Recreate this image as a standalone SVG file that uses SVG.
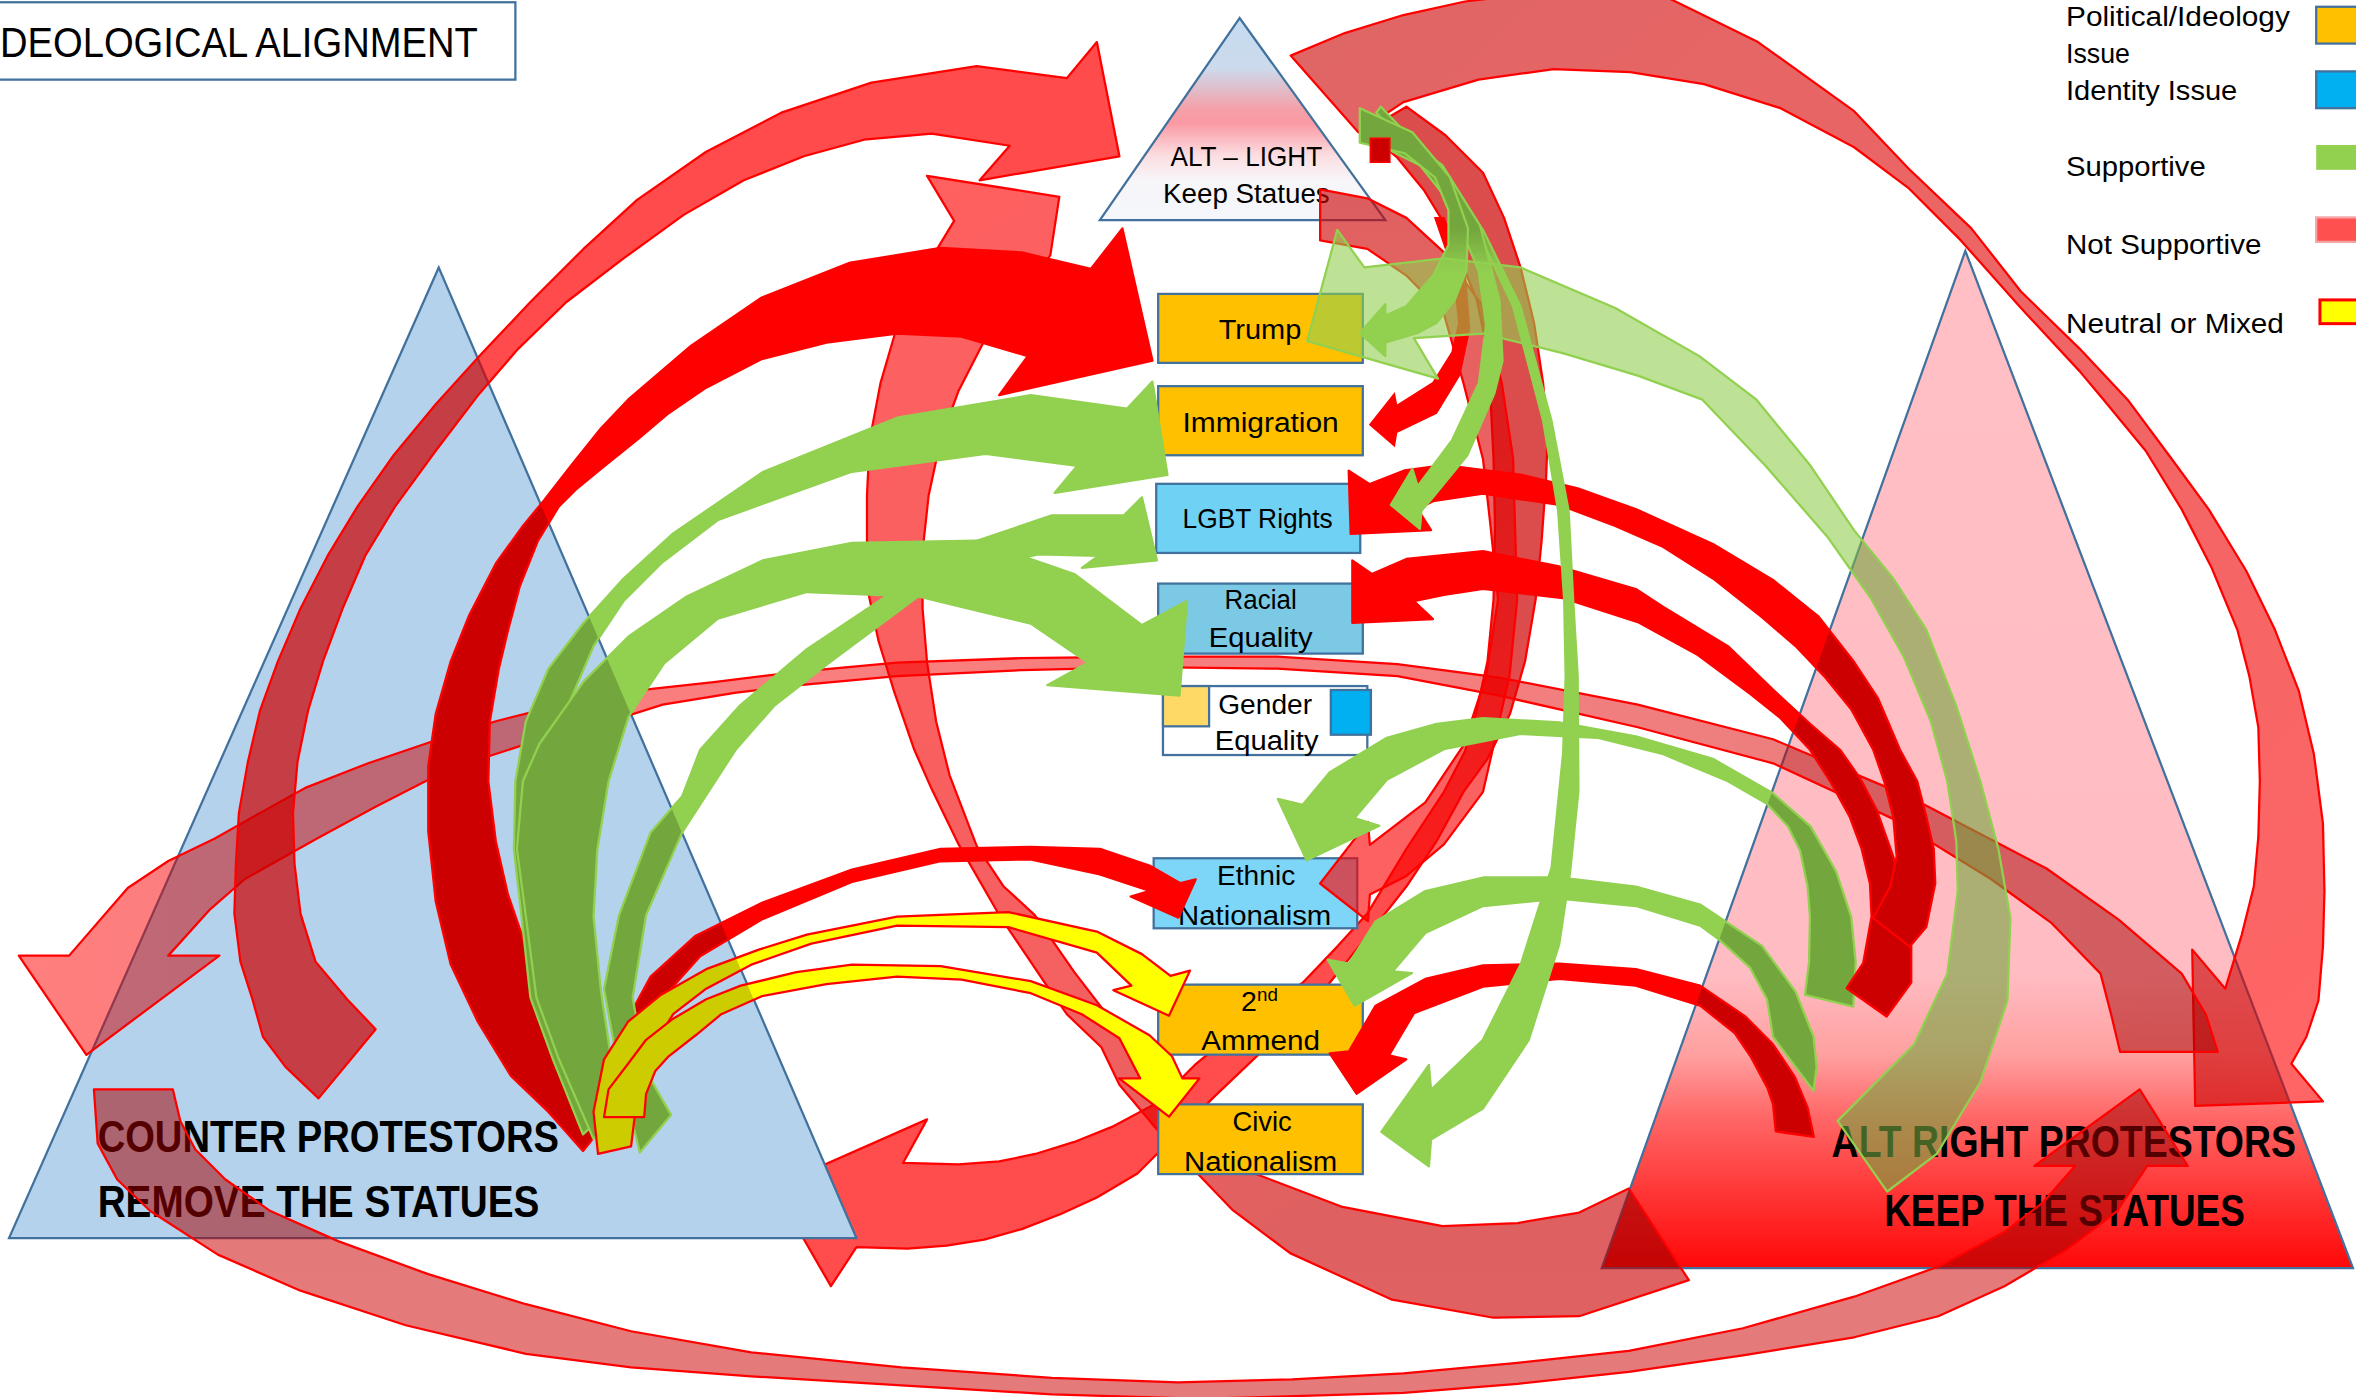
<svg xmlns="http://www.w3.org/2000/svg" width="2356" height="1397" viewBox="0 0 2356 1397">
<style>
text{font-family:"Liberation Sans",Arial,sans-serif;fill:#000}
.box{stroke:#41719C;stroke-width:1.5}
.bt{font-size:19px;text-anchor:middle}
.lg{font-size:18.5px}
.tri{stroke:#41719C;stroke-width:1.5}
.big{font-size:29px;font-weight:bold}
.sr{fill:none;stroke:#FF0000;stroke-width:1.5;stroke-linejoin:round}
.sg{fill:none;stroke:#92D050;stroke-width:1.5;stroke-linejoin:round}
</style>
<defs>
<linearGradient id="gAL" x1="0" y1="0" x2="0" y2="1">
<stop offset="0" stop-color="#C5DBF0"/><stop offset="0.25" stop-color="#CCDAEC"/><stop offset="0.45" stop-color="#F5A0A8"/><stop offset="0.52" stop-color="#FA99A3"/><stop offset="0.68" stop-color="#FCDDE1"/><stop offset="0.8" stop-color="#F7F5F8"/><stop offset="1" stop-color="#F4F7FC"/>
</linearGradient>
<linearGradient id="gAR" x1="0" y1="0" x2="0" y2="1">
<stop offset="0" stop-color="#FFBFC5"/><stop offset="0.71" stop-color="#FFBDC3"/><stop offset="0.79" stop-color="#FFA0A0"/><stop offset="0.85" stop-color="#FF6868"/><stop offset="0.93" stop-color="#FF3333"/><stop offset="1" stop-color="#FF0808"/>
</linearGradient>
<linearGradient id="gD" gradientUnits="userSpaceOnUse" x1="900" y1="0" x2="1520" y2="700"><stop offset="0" stop-color="#CC0000"/><stop offset="1" stop-color="#FF0000"/></linearGradient>
<linearGradient id="gDd" gradientUnits="userSpaceOnUse" x1="900" y1="0" x2="1520" y2="700"><stop offset="0" stop-color="#A30000"/><stop offset="1" stop-color="#CC0000"/></linearGradient>
<linearGradient id="gF" gradientUnits="userSpaceOnUse" x1="0" y1="0" x2="1476" y2="0"><stop offset="0" stop-color="#FF0000"/><stop offset="0.6" stop-color="#F00000"/><stop offset="1" stop-color="#CC0000"/></linearGradient>
<linearGradient id="gFd" gradientUnits="userSpaceOnUse" x1="0" y1="0" x2="1476" y2="0"><stop offset="0" stop-color="#CC0000"/><stop offset="0.6" stop-color="#C00000"/><stop offset="1" stop-color="#A30000"/></linearGradient>
<linearGradient id="gI1" gradientUnits="userSpaceOnUse" x1="0" y1="70" x2="0" y2="830"><stop offset="0" stop-color="#CC0000"/><stop offset="0.45" stop-color="#CC0000"/><stop offset="0.7" stop-color="#FF0000"/><stop offset="1" stop-color="#FF0000"/></linearGradient>
<linearGradient id="gI2" gradientUnits="userSpaceOnUse" x1="0" y1="126" x2="0" y2="600"><stop offset="0" stop-color="#CC0000"/><stop offset="1" stop-color="#FF0000"/></linearGradient>
<linearGradient id="gJ" gradientUnits="userSpaceOnUse" x1="617" y1="117" x2="1124" y2="852"><stop offset="0" stop-color="#FF0000"/><stop offset="0.55" stop-color="#F00000"/><stop offset="0.8" stop-color="#CC0000"/><stop offset="1" stop-color="#CC0000"/></linearGradient>
<linearGradient id="gJd" gradientUnits="userSpaceOnUse" x1="617" y1="117" x2="1124" y2="852"><stop offset="0" stop-color="#CC0000"/><stop offset="0.55" stop-color="#C00000"/><stop offset="0.8" stop-color="#A30000"/><stop offset="1" stop-color="#A30000"/></linearGradient>
<linearGradient id="gL" gradientUnits="userSpaceOnUse" x1="0" y1="70" x2="0" y2="220"><stop offset="0" stop-color="#74A63E"/><stop offset="0.55" stop-color="#74A63E"/><stop offset="0.75" stop-color="#92D050"/><stop offset="1" stop-color="#92D050"/></linearGradient>
<clipPath id="tri"><polygon points="292,178 6,824 570,824"/><polygon points="1308,167 1066,844 1566,844"/></clipPath>

<path id="pA" d="M212,731 L190,710 L175,690 L168,665 L160,640 L156,608 L157,575 L159,541 L165,507 L173,473 L185,440 L200,405 L218,370 L238,337 L262,303 L290,269 L320,236 L353,201 L388,166 L424,133 L470,101 L520,75 L580,55 L650,44 L710,52 L730,28 L745,104 L652,120 L672,97 L620,89 L575,93 L535,104 L495,120 L455,143 L415,172 L377,201 L345,232 L319,262 L290,300 L263,337 L243,370 L228,405 L215,440 L205,473 L198,507 L195,541 L196,575 L200,608 L210,640 L231,665 L250,685 Z"/>
<path id="pB" d="M388,766 L365,740 L340,716 L318,680 L300,642 L290,600 L285,553 L285,510 L290,475 L300,440 L312,410 L330,375 L348,350 L362,333 L380,310 L400,285 L418,266 L460,230 L507,198 L565,175 L626,165 L680,168 L726,179 L747,152 L767,240 L665,263 L684,237 L640,224 L597,222 L550,228 L507,239 L470,258 L445,275 L425,292 L400,312 L383,326 L372,337 L358,360 L346,390 L338,420 L332,445 L326,480 L325,520 L330,560 L338,595 L350,630 L365,670 L385,710 L405,745 Z"/>
<path id="pC" d="M1256,793 L1289,768 L1318,720 L1336,666 L1338,611 L1330,565 L1318,520 L1302,470 L1282,419 L1260,385 L1234,353 L1205,310 L1169,266 L1131,237 L1075,205 L1012,178 L961,172 L908,178 L890,153 L870,227 L957,252 L941,225 L987,222 L1040,235 L1090,250 L1133,266 L1175,310 L1216,357 L1245,398 L1267,437 L1285,480 L1296,520 L1302,560 L1303,593 L1296,648 L1274,695 L1223,746 Z"/>
<path id="pD" d="M859,37 L895,22 L934,10 L975,1 L1009,-3 L1060,-6 L1109,-2 L1170,28 L1234,74 L1270,112 L1312,152 L1345,194 L1384,232 L1416,266 L1445,305 L1470,339 L1495,380 L1514,419 L1530,460 L1540,502 L1546,548 L1547,593 L1546,630 L1543,666 L1535,690 L1525,708 L1546,733 L1461,736 L1459,632 L1481,658 L1492,622 L1500,590 L1503,557 L1504,520 L1503,484 L1497,450 L1489,419 L1472,378 L1452,339 L1428,300 L1400,266 L1384,247 L1345,205 L1305,160 L1270,125 L1234,98 L1185,72 L1134,56 L1085,48 L1034,46 L984,53 L934,68 L904,88 Z"/>
<path id="pF" d="M46,636 L85,591 L112,573 L143,558 L175,540 L204,524 L245,508 L289,493 L330,480 L374,469 L420,460 L475,454 L532,447 L597,441 L680,438 L765,437 L850,437 L930,442 L998,451 L1090,469 L1180,492 L1270,530 L1362,578 L1410,612 L1452,648 L1468,675 L1476,700 L1411,700 L1405,675 L1398,648 L1365,614 L1325,585 L1260,545 L1180,508 L1090,484 L998,463 L930,450 L850,445 L765,444 L680,446 L597,450 L532,456 L490,461 L441,469 L400,482 L357,493 L320,505 L289,517 L250,537 L211,558 L163,585 L140,605 L112,636 L146,636 L57.5,702 L12.5,636 Z"/>
<path id="pG" d="M62.5,725 L65,761 L78,785 L100,806 L145,835 L200,859 L270,882 L350,901 L420,910 L500,916 L600,922 L700,928 L800,931 L934,927 L1010,921 L1084,913 L1160,902 L1234,890 L1290,876 L1334,856 L1375,832 L1409,806 L1429,776 L1456,776 L1424,725 L1354,776 L1381,776 L1360,800 L1334,820 L1290,843 L1234,863 L1160,884 L1084,899 L1010,907 L934,914 L860,918 L784,920 L700,917 L600,910 L500,900 L420,886 L350,868 L285,848 L225,826 L180,806 L150,785 L130,765 L120,746 L115,725 Z"/>
<path id="pI1" d="M936,71 L962,90 L987,115 L1001,145 L1012,178 L1021,215 L1027,255 L1030,290 L1029,318 L1026,360 L1022,399 L1015,440 L1005,475 L990,505 L974,527 L956,560 L936,590 L910,623 L885,654 L848,692 L808,730 L780,758 L757,781 L730,797 L706,808 L680,818 L655,825 L630,829 L604,831 L570,830 L553,856 L515,790 L617,745 L601,774 L638,775 L665,773 L689,768 L715,760 L740,750 L770,734 L796,708 L830,680 L867,654 L890,630 L910,608 L936,565 L961,527 L975,500 L982,476 L990,440 L994,399 L995,350 L994,305 L992,265 L989,229 L983,200 L974,178 L962,150 L948,127 L930,105 L909,87 Z"/>
<path id="pI2" d="M878.6,126 L910,132 L936,145 L961,168 L987,204 L999.5,255 L1007,305 L1009.7,399 L1004.6,450 L987,527 L961,562 L936,583 L911.7,595.4 L910.4,613 L878.6,588 L910.4,547 L911.7,562.3 L948.6,534 L974,496 L989,450 L997,399 L992,350 L987,305.6 L974,255 L961,209 L936,183.4 L910,165.6 L878.6,160 Z"/>
<path id="pJ" d="M617,117 L705,131 L699,170 L680,195 L656,225 L638,260 L626,293 L618,330 L614,367 L614,405 L617,441 L623,480 L632,516 L650,563 L668,590 L688.7,609 L715,647 L745,686 L765,710 L790,740 L812,762 L835,781 L892.6,803 L960,816 L1010,814 L1051,807 L1084,791 L1124,852 L1051,876 L994,877 L926.5,865 L858.6,834 L820,805 L797,781 L772,754 L745,722 L733,697 L710,675 L694.6,653 L665,609 L638,562 L620,525 L608.5,499 L595,460 L584.7,426.6 L578,395 L577,367 L577,330 L578.8,293 L586,255 L596.6,218.6 L612,185 L635,147 Z"/>
<path id="pK" d="M955,145 L967,180 L971,215 L966.4,234.3 L953.7,254.7 L929.5,270 L928,262 L911.7,282.7 L928,296.7 L929.5,287.8 L956,275 L971.5,249.6 L978,219 L975,180 L961,145 Z"/>
<path id="pL1" d="M905,72 L940,88 L965,118 L977,152 L976,180 L968,200 L956,215 L943.5,221.6 L922,228 L922,237 L905,221.6 L922,202.5 L922,210 L935.9,203.8 L953.7,183.4 L964,163 L964,140 L955,118 L935,102 L905,95 Z"/>
<path id="pL2" d="M925,85 L960,110 L985,150 L998,200 L1000,240 L994.5,262 L976.6,303 L953.7,331 L946,340 L945,352 L925.7,336 L940,312 L943.5,323.5 L966.4,293 L984.3,254.7 L989,216 L984,180 L965,135 L945,110 L925,100 Z"/>
<path id="pL3" d="M919,71 L948.6,102 L987,153 L1012,204 L1032.6,280 L1044,340 L1047,399 L1050,450 L1050.5,526.6 L1045,580 L1037.7,628.5 L1017.4,692.2 L986.8,738 L952.4,758.4 L951,776.3 L919.3,753.3 L951,708.8 L952.4,725.3 L986.8,692.2 L1012.3,641.3 L1032.6,577.6 L1040.3,501.2 L1042,450 L1041,399 L1037,340 L1027,280 L1007,204 L983,153 L945,105 L916,75 Z"/>
<path id="pM1" d="M911.6,322.2 L935,313 L961,309.5 L1012,315.8 L1050,325 L1089,339 L1140,362 L1180,386 L1210,410 L1234,440.6 L1250,465 L1264.5,499 L1276,520 L1282,543.5 L1287,565 L1288,588 L1282,617 L1271,630 L1246.7,611 L1258,590 L1262.3,570 L1260,543.5 L1254,520 L1246.7,499 L1232,472 L1214,450 L1195,430 L1173,411 L1140,385 L1107,364 L1075,350 L1037.7,336 L987,328.6 L953.7,333.6 L943.5,338.8 L952.4,352.8 L898.9,355.3 L897.6,313.3 Z"/>
<path id="pM2" d="M913,382 L936,372 L987,366.8 L1037.7,377 L1088.7,392 L1107,404 L1150,430 L1180,459 L1205,482 L1224.6,499 L1238,518 L1249,539 L1260,570 L1268,600 L1272,630 L1272,654 L1255.6,676.5 L1229,657.7 L1240,641 L1245.6,610 L1244.5,588 L1239,565 L1231,543.5 L1218,520 L1204.6,499 L1185,478 L1165,462 L1130,436 L1090,414 L1040,398 L987,392 L961,396 L941,400 L953.7,412 L900,414.6 L900,373 Z"/>
<path id="pN1" d="M867,535.6 L885,514 L923,491 L955,482 L987,478 L1037.7,480.8 L1088.7,490 L1140,505 L1180,528 L1205,550 L1222,580 L1232,610 L1235,640 L1233.4,669.9 L1201.3,662.1 L1204,640 L1204.6,610 L1203,590 L1198,566 L1190,550 L1176,535 L1150,520 L1107,502 L1063,491 L1012,488.4 L961,498.6 L923,519 L901.5,544.5 L918,549.6 L869.6,572.5 L850.5,531.7 Z"/>
<path id="pN2" d="M897.7,641.3 L915.5,613.2 L948.6,593 L987,584 L1037.7,584 L1088.7,590 L1131.5,602 L1172.7,629.5 L1195,660 L1207,690 L1209,710 L1207,726 L1180,690 L1176,665 L1164.7,644 L1145,626 L1131.5,616 L1088.7,603 L1037.7,598 L987,603 L948.6,621 L927,646.4 L939.7,647.6 L901.5,669.3 L883.6,638.7 Z"/>
<path id="pO" d="M897.7,699.8 L915.5,669.3 L948.6,651.5 L987,642.5 L1037.7,641.3 L1088.7,645 L1131.5,656 L1161.8,676.7 L1180,695 L1194.5,716.7 L1203,737 L1207.2,756.7 L1181.8,753 L1180,735 L1176.3,724 L1165,703 L1154.5,687.6 L1131.5,669.3 L1088.7,656 L1037.7,651.5 L987,656.6 L941,674.4 L924.4,702.4 L935.9,705 L902.8,727.9 L885,701 Z"/>
<path id="pR" d="M418,690 L421,672 L433,650 L463,622.7 L507.5,600.7 L567,578.7 L626,565 L685.7,563.6 L732,565 L765,576 L785.6,587.8 L795.8,585.2 L784.3,610.7 L752.5,596.7 L765.2,592.9 L732,582 L685.7,571.9 L626,573.2 L567,587 L507.5,611.7 L466,636.4 L439,666.6 L432,688 Z"/>
<path id="pP1" d="M388,755 L368,705 L353,664 L347,609 L342,565 L343,520 L350,480 L365,445 L388,415 L415,385 L448,355 L508,314 L597,278 L686,263 L750,272 L767,254 L777,316 L702,328 L717,310 L656,302 L567,314 L478,346 L440,375 L415,400 L395,430 L380,465 L375,500 L378,540 L385,580 L392,609 L398,650 L402,690 L404,740 Z"/>
<path id="pP3" d="M395,758 L372,705 L357,664 L350,610 L344,565 L348,520 L359,495 L388.6,453.3 L418.3,423.6 L457,397 L507.5,373 L567,361.3 L650,359.8 L715,382 L760,416 L790,400 L785,463 L697,456 L724,441 L686,415 L611,397 L537,394 L477.8,411.7 L442,441.5 L418.3,477.1 L405,520 L397.5,565.6 L395,610 L400,660 L406,700 L412,742 Z"/>
<path id="pP2" d="M425.8,767 L409,697 L402,658 L412,609 L433,554 L454,530 L466,499 L492,470 L537,432 L594,394 L650,360 L700,343 L748,343 L760,331 L770,373 L720,378 L731,370 L691,369 L640,380 L611,397 L552,441 L515,470 L489.6,499 L454,554 L430,609 L421,664 L430,713 L446.6,742 Z"/>
<path id="pQ1" d="M398,768 L395,740 L402,705 L418,680 L440,662 L470,645 L505,632 L537,622 L597,610 L671,607 L730,620 L760,635 L779,649.5 L792,646 L778,676 L741,659 L753,656 L730,634 L671,617 L597,616 L540,628 L500,642 L470,658 L448,675 L432,700 L424,730 L420,763 Z"/>
<path id="pQ2" d="M402,743.5 L405,725 L418,708 L430,692 L448,678 L470,665 L493,656 L530,647 L567,642 L626,643 L686,653 L730,669 L765,689 L780,703 L786.9,717.7 L798.3,717.7 L778,743.2 L744.8,717.7 L758.8,717.7 L745,691 L720,675 L686,661 L640,652 L597,650 L550,655 L507,663 L480,675 L463,689 L445,703 L436,713 L430,728 L428.7,743.5 Z"/>
</defs>
<rect width="2356" height="1397" fill="#FFFFFF"/>
<g transform="scale(1.502551)">

<g id="connectors-back">
<g id="arrow-altlight-counter"><g opacity="0.7"><use href="#pI1" fill="url(#gI1)"/></g><use href="#pI1" class="sr"/></g>
</g>

<g id="node-counter-protestors">
<polygon class="tri" points="292,178 6,824 570,824" fill="#B5D2EC"/>
<text class="big" x="65" y="767" textLength="307" lengthAdjust="spacingAndGlyphs">COUNTER PROTESTORS</text>
<text class="big" x="65" y="810" textLength="294" lengthAdjust="spacingAndGlyphs">REMOVE THE STATUES</text>
</g>
<g id="node-alt-right">
<polygon class="tri" points="1308,167 1066,844 1566,844" fill="url(#gAR)"/>
<text class="big" x="1219" y="770" textLength="309" lengthAdjust="spacingAndGlyphs">ALT RIGHT PROTESTORS</text>
<text class="big" x="1254" y="816" textLength="240" lengthAdjust="spacingAndGlyphs">KEEP THE STATUES</text>
</g>
<g id="node-alt-light">
<polygon class="tri" points="825,12 732,146.5 922,146.5" fill="url(#gAL)"/>
<text x="829.5" y="110.8" font-size="19" text-anchor="middle" textLength="101" lengthAdjust="spacingAndGlyphs">ALT – LIGHT</text>
<text x="829.5" y="135" font-size="19" text-anchor="middle" textLength="111" lengthAdjust="spacingAndGlyphs">Keep Statues</text>
</g>

<g id="connectors-mid">
<g id="arrow-j"><g opacity="0.62"><use href="#pJ" fill="url(#gJ)"/><use href="#pJ" fill="url(#gJd)" clip-path="url(#tri)"/></g><use href="#pJ" class="sr"/></g>
</g>

<g id="node-title"><rect x="-5" y="1.5" width="348" height="51.5" fill="#FFFFFF" stroke="#41719C" stroke-width="1.5"/><text x="0" y="38" font-size="28" textLength="318" lengthAdjust="spacingAndGlyphs">DEOLOGICAL ALIGNMENT</text></g>

<g id="node-trump"><rect class="box" x="770.8" y="195.6" width="136.2" height="45.9" fill="#FFC000"/><text class="bt" x="838.6" y="225.4" textLength="55" lengthAdjust="spacingAndGlyphs">Trump</text></g>
<g id="node-immigration"><rect class="box" x="770.8" y="257" width="136.2" height="46" fill="#FFC000"/><text class="bt" x="839" y="287.8" textLength="104" lengthAdjust="spacingAndGlyphs">Immigration</text></g>
<g id="node-lgbt"><rect class="box" x="769.5" y="322" width="135.8" height="46" fill="#6FD2F5"/><text class="bt" x="837" y="351.5" textLength="100" lengthAdjust="spacingAndGlyphs">LGBT Rights</text></g>
<g id="node-racial"><rect class="box" x="770.8" y="388.4" width="136.2" height="46.6" fill="#7BC9E4"/><text class="bt" x="839" y="405.5" textLength="48" lengthAdjust="spacingAndGlyphs">Racial</text><text class="bt" x="839" y="430.8" textLength="69" lengthAdjust="spacingAndGlyphs">Equality</text></g>
<g id="node-gender"><rect class="box" x="774" y="456.6" width="136" height="45.9" fill="#FFFFFF"/><rect class="box" x="774" y="456.6" width="30.7" height="26.8" fill="#FFD966"/><rect class="box" x="885.7" y="459.2" width="26.7" height="29.8" fill="#00B0F0"/><text class="bt" x="842" y="475" textLength="62.5" lengthAdjust="spacingAndGlyphs">Gender</text><text class="bt" x="843" y="499" textLength="69" lengthAdjust="spacingAndGlyphs">Equality</text></g>
<g id="node-ethnic"><rect class="box" x="767.8" y="571.2" width="135.5" height="46.6" fill="#7DD6F7"/><text class="bt" x="836" y="589" textLength="52" lengthAdjust="spacingAndGlyphs">Ethnic</text><text class="bt" x="835" y="615.3" textLength="102" lengthAdjust="spacingAndGlyphs">Nationalism</text></g>
<g id="node-2nd"><rect class="box" x="770.8" y="655.3" width="136.2" height="46.6" fill="#FFC000"/><text x="826" y="673" font-size="19">2<tspan dy="-6.5" font-size="12.5">nd</tspan></text><text class="bt" x="839" y="698.6" textLength="79" lengthAdjust="spacingAndGlyphs">Ammend</text></g>
<g id="node-civic"><rect class="box" x="770.8" y="735" width="136.2" height="46.4" fill="#FFC000"/><text class="bt" x="840" y="752.8" textLength="39.5" lengthAdjust="spacingAndGlyphs">Civic</text><text class="bt" x="839" y="779.3" textLength="102" lengthAdjust="spacingAndGlyphs">Nationalism</text></g>

<g id="legend">
<text class="lg" x="1375" y="17.2" textLength="149" lengthAdjust="spacingAndGlyphs">Political/Ideology</text>
<text class="lg" x="1375" y="41.6" textLength="42.5" lengthAdjust="spacingAndGlyphs">Issue</text>
<rect x="1541.5" y="4.5" width="40" height="24.5" fill="#FFC000" stroke="#41719C" stroke-width="1.5"/>
<text class="lg" x="1375" y="66.8" textLength="114" lengthAdjust="spacingAndGlyphs">Identity Issue</text>
<rect x="1541.5" y="47.5" width="40" height="24.5" fill="#00B0F0" stroke="#41719C" stroke-width="1.5"/>
<text class="lg" x="1375" y="117.4" textLength="93" lengthAdjust="spacingAndGlyphs">Supportive</text>
<rect x="1541.5" y="96.5" width="40" height="16.5" fill="#92D050"/>
<text class="lg" x="1375" y="169.3" textLength="130" lengthAdjust="spacingAndGlyphs">Not Supportive</text>
<rect x="1541.5" y="144.7" width="40" height="16.3" fill="#FF5050" stroke="#F4A6A6" stroke-width="1.5"/>
<text class="lg" x="1375" y="221.3" textLength="145" lengthAdjust="spacingAndGlyphs">Neutral or Mixed</text>
<rect x="1544" y="199.6" width="40" height="15.8" fill="#FFFF00" stroke="#FF0000" stroke-width="2"/>
</g>

<g id="connectors">
<g id="arrow-d"><g opacity="0.6"><use href="#pD" fill="url(#gD)"/><use href="#pD" fill="url(#gDd)" clip-path="url(#tri)"/></g><use href="#pD" class="sr"/></g>
<g id="arrow-f"><g opacity="0.5"><use href="#pF" fill="url(#gF)"/><use href="#pF" fill="url(#gFd)" clip-path="url(#tri)"/></g><use href="#pF" class="sr"/></g>
<g id="arrow-g"><g opacity="0.52"><use href="#pG" fill="#CC0000"/><use href="#pG" fill="#A30000" clip-path="url(#tri)"/></g><use href="#pG" class="sr"/></g>
<g id="arrow-a"><g opacity="0.7"><use href="#pA" fill="#FF0000"/><use href="#pA" fill="#CC0000" clip-path="url(#tri)"/></g><use href="#pA" class="sr"/></g>
<g id="arrow-b"><use href="#pB" fill="#FF0000"/><use href="#pB" fill="#CC0000" clip-path="url(#tri)"/><use href="#pB" class="sr"/></g>
<g id="arrow-i2"><g opacity="0.62"><use href="#pI2" fill="url(#gI2)"/></g><use href="#pI2" class="sr"/></g>
<g id="arrow-k"><use href="#pK" fill="#FF0000" stroke="#FF0000" stroke-width="1"/></g>
<g id="arrow-r"><use href="#pR" fill="#FF0000"/><use href="#pR" fill="#CC0000" clip-path="url(#tri)"/><use href="#pR" class="sr"/></g>
<g id="arrow-p1"><use href="#pP1" fill="#92D050"/><use href="#pP1" fill="#74A63E" clip-path="url(#tri)"/><use href="#pP1" class="sg"/></g>
<g id="arrow-p3"><use href="#pP3" fill="#92D050"/><use href="#pP3" fill="#74A63E" clip-path="url(#tri)"/><use href="#pP3" class="sg"/></g>
<g id="arrow-p2"><use href="#pP2" fill="#92D050"/><use href="#pP2" fill="#74A63E" clip-path="url(#tri)"/><use href="#pP2" class="sg"/></g>
<g id="arrow-n1"><use href="#pN1" fill="#92D050"/><use href="#pN1" fill="#74A63E" clip-path="url(#tri)"/><use href="#pN1" class="sg"/></g>
<g id="arrow-n2"><use href="#pN2" fill="#92D050"/><use href="#pN2" fill="#74A63E" clip-path="url(#tri)"/><use href="#pN2" class="sg"/></g>
<g id="arrow-m2"><use href="#pM2" fill="#FF0000"/><use href="#pM2" fill="#CC0000" clip-path="url(#tri)"/><use href="#pM2" class="sr"/></g>
<g id="arrow-m1"><use href="#pM1" fill="#FF0000"/><use href="#pM1" fill="#CC0000" clip-path="url(#tri)"/><use href="#pM1" class="sr"/></g>
<g id="arrow-o"><use href="#pO" fill="#FF0000"/><use href="#pO" fill="#CC0000" clip-path="url(#tri)"/><use href="#pO" class="sr"/></g>
<g id="arrow-l3"><use href="#pL3" fill="url(#gL)"/><use href="#pL3" class="sg"/></g>
<g id="arrow-l2"><use href="#pL2" fill="url(#gL)"/><use href="#pL2" class="sg"/></g>
<g id="arrow-l1"><use href="#pL1" fill="url(#gL)"/><use href="#pL1" class="sg"/></g>
<g id="arrow-c"><g opacity="0.6"><use href="#pC" fill="#92D050"/><use href="#pC" fill="#75A640" clip-path="url(#tri)"/></g><use href="#pC" class="sg"/></g>
<g id="arrow-q1"><use href="#pQ1" fill="#FFFF00"/><use href="#pQ1" fill="#CCCC00" clip-path="url(#tri)"/><use href="#pQ1" class="sr"/></g>
<g id="arrow-q2"><use href="#pQ2" fill="#FFFF00"/><use href="#pQ2" fill="#CCCC00" clip-path="url(#tri)"/><use href="#pQ2" class="sr"/></g>
<rect x="912" y="92" width="13" height="16" fill="#CC0000" stroke="#FF0000" stroke-width="1"/>
</g>

</g>
</svg>
